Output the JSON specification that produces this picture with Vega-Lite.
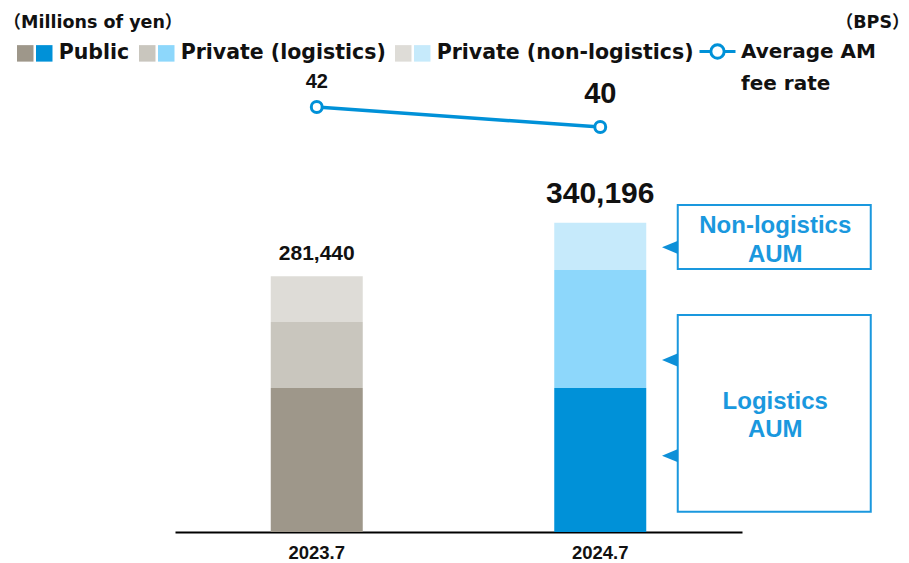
{
  "$schema": "https://vega.github.io/schema/vega-lite/v6.json",
  "width": 567,
  "height": 472,
  "autosize": {"type": "none"},
  "padding": {"left": 175, "top": 60, "right": 167, "bottom": 31},
  "background": "white",
  "config": {
    "view": {"stroke": null},
    "font": "Liberation Sans",
    "style": {"guide-label": {"lineHeight": 32}}
  },
  "datasets": {
    "aum": [
      {"period": "2023.7", "group": "2023.7 Public", "value": 158400},
      {"period": "2023.7", "group": "2023.7 Private (logistics)", "value": 72600},
      {"period": "2023.7", "group": "2023.7 Private (non-logistics)", "value": 50440},
      {"period": "2024.7", "group": "2024.7 Public", "value": 158400},
      {"period": "2024.7", "group": "2024.7 Private (logistics)", "value": 129800},
      {"period": "2024.7", "group": "2024.7 Private (non-logistics)", "value": 51996}
    ],
    "fee": [
      {"period": "2023.7", "metric": "Average AM fee rate", "rate": 42},
      {"period": "2024.7", "metric": "Average AM fee rate", "rate": 40}
    ],
    "boxes": [
      {"period": "2024.7", "label": ["Non-logistics", "AUM"], "lo": 289300, "hi": 359700, "at": 336600},
      {"period": "2024.7", "label": ["Logistics", "AUM"], "lo": 22300, "hi": 238700, "at": 143300}
    ],
    "pointers": [
      {"period": "2024.7", "at": 313200},
      {"period": "2024.7", "at": 189200},
      {"period": "2024.7", "at": 83900}
    ]
  },
  "resolve": {"scale": {"y": "independent"}},
  "layer": [
    {
      "layer": [
        {
          "data": {"name": "aum"},
          "mark": {"type": "bar", "width": 92},
          "encoding": {
            "x": {
              "field": "period",
              "type": "nominal",
              "scale": {"paddingInner": 0, "paddingOuter": 0},
              "axis": {
                "title": null,
                "domainColor": "#000",
                "domainWidth": 2,
                "ticks": false,
                "grid": false,
                "labelAngle": 0,
                "labelFont": "Liberation Sans",
                "labelFontSize": 18.5,
                "labelFontWeight": "bold",
                "labelColor": "#111",
                "labelPadding": 11.5
              }
            },
            "y": {
              "field": "value",
              "type": "quantitative",
              "stack": "zero",
              "scale": {"domain": [0, 519200], "nice": false},
              "axis": {
                "title": "（Millions of yen）",
                "titleAngle": 0,
                "titleAlign": "left",
                "titleBaseline": "middle",
                "titleX": -172,
                "titleY": -38,
                "titleFont": "DejaVu Sans, Noto Sans CJK JP",
                "titleFontSize": 17.5,
                "titleFontWeight": "bold",
                "titleColor": "#111",
                "domain": false,
                "ticks": false,
                "labels": false,
                "grid": false
              }
            },
            "order": {"field": "value", "type": "quantitative", "sort": "descending"},
            "color": {
              "field": "group",
              "type": "nominal",
              "sort": ["2023.7 Public", "2024.7 Public", "2023.7 Private (logistics)", "2024.7 Private (logistics)", "2023.7 Private (non-logistics)", "2024.7 Private (non-logistics)"],
              "scale": {
                "domain": ["2023.7 Public", "2024.7 Public", "2023.7 Private (logistics)", "2024.7 Private (logistics)", "2023.7 Private (non-logistics)", "2024.7 Private (non-logistics)"],
                "range": ["#9e978a", "#0091d8", "#c9c6be", "#8dd7fb", "#dedcd7", "#c6eafb"]
              },
              "legend": {
                "orient": "none",
                "legendX": -160,
                "legendY": -17,
                "direction": "horizontal",
                "columns": 6,
                "title": null,
                "padding": 0,
                "symbolType": "square",
                "symbolSize": 272,
                "symbolStrokeWidth": 0,
                "labelExpr": "indexof(datum.label, '2023.7') == 0 ? '' : '\u200b\u00a0' + slice(datum.label, 7) + '\u00a0\u200b'",
                "labelFont": "DejaVu Sans",
                "labelFontSize": 20.5,
                "labelFontWeight": "bold",
                "labelColor": "#111",
                "labelOffset": -3,
                "labelLimit": 0,
                "columnPadding": -2
              }
            }
          }
        },
        {
          "data": {"name": "aum"},
          "transform": [
            {"aggregate": [{"op": "sum", "field": "value", "as": "total"}], "groupby": ["period"]},
            {"filter": "datum.period == '2023.7'"}
          ],
          "mark": {"type": "text", "baseline": "alphabetic", "dy": -16, "fontSize": 21, "fontWeight": "bold", "font": "Liberation Sans", "color": "#111"},
          "encoding": {
            "x": {"field": "period", "type": "nominal"},
            "y": {"field": "total", "type": "quantitative"},
            "text": {"field": "total", "type": "quantitative", "format": ","}
          }
        },
        {
          "data": {"name": "aum"},
          "transform": [
            {"aggregate": [{"op": "sum", "field": "value", "as": "total"}], "groupby": ["period"]},
            {"filter": "datum.period == '2024.7'"}
          ],
          "mark": {"type": "text", "baseline": "alphabetic", "dy": -19.5, "fontSize": 30, "fontWeight": "bold", "font": "Liberation Sans", "color": "#111"},
          "encoding": {
            "x": {"field": "period", "type": "nominal"},
            "y": {"field": "total", "type": "quantitative"},
            "text": {"field": "total", "type": "quantitative", "format": ","}
          }
        },
        {
          "data": {"name": "boxes"},
          "mark": {"type": "bar", "width": 193, "xOffset": 174, "fill": "white", "stroke": "#1a98de", "strokeWidth": 2},
          "encoding": {
            "x": {"field": "period", "type": "nominal"},
            "y": {"field": "lo", "type": "quantitative"},
            "y2": {"field": "hi"}
          }
        },
        {
          "data": {"name": "boxes"},
          "mark": {"type": "text", "xOffset": 175, "fontSize": 24, "fontWeight": "bold", "lineHeight": 28.5, "color": "#1a98de", "baseline": "middle", "font": "Liberation Sans"},
          "encoding": {
            "x": {"field": "period", "type": "nominal"},
            "y": {"field": "at", "type": "quantitative"},
            "text": {"field": "label"}
          }
        },
        {
          "data": {"name": "pointers"},
          "mark": {"type": "point", "shape": "M-1,0L1,-0.83L1,0.83Z", "size": 256, "filled": true, "opacity": 1, "color": "#0e90d8", "strokeWidth": 0, "xOffset": 69.75},
          "encoding": {
            "x": {"field": "period", "type": "nominal"},
            "y": {"field": "at", "type": "quantitative"}
          }
        }
      ]
    },
    {
      "data": {"name": "fee"},
      "encoding": {
        "x": {"field": "period", "type": "nominal"},
        "y": {
          "field": "rate",
          "type": "quantitative",
          "scale": {"domain": [-0.5, 46.7], "zero": false, "nice": false},
          "axis": {
            "orient": "right",
            "title": "（BPS）",
            "titleAngle": 0,
            "titleAlign": "right",
            "titleBaseline": "middle",
            "titleX": 167,
            "titleY": -38,
            "titleFont": "DejaVu Sans, Noto Sans CJK JP",
            "titleFontSize": 17.5,
            "titleFontWeight": "bold",
            "titleColor": "#111",
            "domain": false,
            "ticks": false,
            "labels": false,
            "grid": false
          }
        }
      },
      "layer": [
        {
          "mark": {"type": "line", "strokeWidth": 3.5},
          "encoding": {
            "stroke": {
              "field": "metric",
              "type": "nominal",
              "scale": {"range": ["#0091d8"]},
              "legend": {
                "orient": "none",
                "legendX": 523,
                "legendY": -28,
                "title": null,
                "padding": 0,
                "symbolType": "M-1,0L-0.36,0M0.36,0L1,0M-0.37,0A0.37,0.37 0 1,0 0.37,0A0.37,0.37 0 1,0 -0.37,0",
                "symbolSize": 1296,
                "symbolStrokeWidth": 3,
                "symbolFillColor": "white",
                "labelExpr": "['Average AM', 'fee rate']",
                "labelFont": "DejaVu Sans",
                "labelFontSize": 20,
                "labelFontWeight": "bold",
                "labelColor": "#111",
                "labelOffset": 4,
                "labelLimit": 0
              }
            }
          }
        },
        {
          "mark": {"type": "point", "filled": true, "fill": "white", "stroke": "#0091d8", "strokeWidth": 3, "size": 119, "opacity": 1, "shape": "circle"}
        },
        {
          "transform": [{"filter": "datum.period == '2023.7'"}],
          "mark": {"type": "text", "baseline": "alphabetic", "dy": -19, "fontSize": 20, "fontWeight": "bold", "color": "#111", "font": "Liberation Sans"},
          "encoding": {"text": {"field": "rate", "type": "quantitative"}}
        },
        {
          "transform": [{"filter": "datum.period == '2024.7'"}],
          "mark": {"type": "text", "baseline": "alphabetic", "dy": -24, "fontSize": 29, "fontWeight": "bold", "color": "#111", "font": "Liberation Sans"},
          "encoding": {"text": {"field": "rate", "type": "quantitative"}}
        }
      ]
    }
  ]
}
